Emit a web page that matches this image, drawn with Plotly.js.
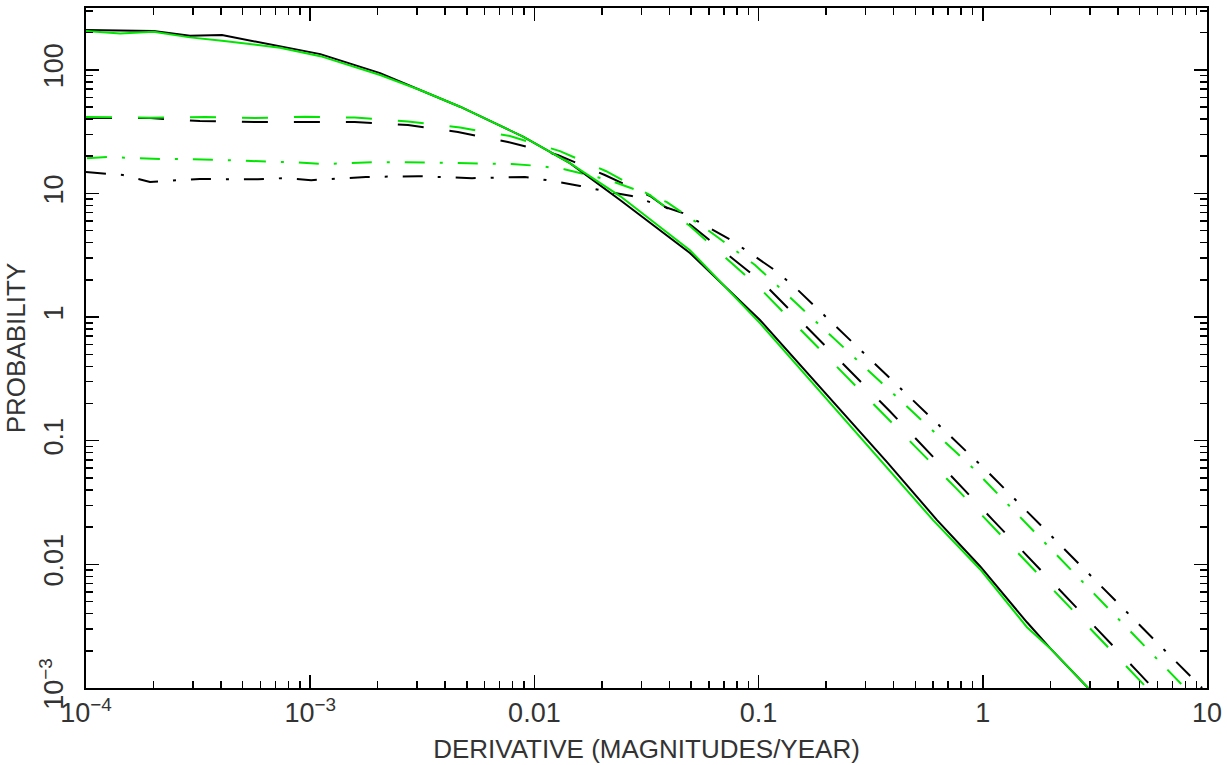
<!DOCTYPE html>
<html>
<head>
<meta charset="utf-8">
<script src="https://cdn.plot.ly/plotly-3.0.1.min.js"></script>
<style>html,body{margin:0;padding:0;background:#fff;}#chart{width:1227px;height:765px;}</style>
</head>
<body>
<div id="chart"></div>
<script>
// Black solid
const blackSolidX = [1.0e-4, 1.42e-4, 2.0e-4, 2.91e-4, 4.04e-4, 1.11e-3, 2.05e-3, 3.09e-3, 4.66e-3, 8.9e-3, 0.0114, 0.0144, 0.0241, 0.0494, 0.1014, 0.374, 0.625, 0.972, 1.574, 1.995, 2.95];
const blackSolidY = [210, 208, 206, 189, 191, 134, 94, 68.7, 50.3, 28.8, 22.4, 17.6, 8.85, 3.30, 0.946, 0.0671, 0.0228, 0.00966, 0.0034, 0.0021, 0.001];
// Green solid
const greenSolidX = [1.0e-4, 1.42e-4, 2.0e-4, 2.91e-4, 4.04e-4, 7.33e-4, 1.11e-3, 2.05e-3, 3.09e-3, 4.66e-3, 8.9e-3, 0.0144, 0.0241, 0.0494, 0.1014, 0.374, 0.60, 0.972, 1.574, 1.995, 2.95];
const greenSolidY = [206, 197, 203, 183, 172, 151, 129, 90.8, 68.7, 50.3, 28.8, 17.6, 9.53, 3.48, 0.894, 0.0611, 0.0228, 0.00914, 0.0031, 0.0021, 0.001];
// Black dashed
const blackDashX = [1.0e-4, 1.93e-4, 3.22e-4, 5.68e-4, 9.49e-4, 1.58e-3, 2.73e-3, 4.56e-3, 7.62e-3, 0.0127, 0.0206, 0.0328, 0.0505, 0.105, 0.385, 1.11, 4.88, 5.74];
const blackDashY = [40.7, 40.7, 38.5, 37.8, 37.8, 37.8, 35.7, 31.4, 26.1, 20.5, 14.1, 9.53, 5.45, 1.88, 0.173, 0.0228, 0.00137, 0.001];
// Green dashed
const greenDashX = [1.0e-4, 1.93e-4, 3.40e-4, 5.68e-4, 9.49e-4, 1.58e-3, 2.73e-3, 4.66e-3, 7.78e-3, 0.0130, 0.0208, 0.0328, 0.0494, 0.101, 0.767, 4.68, 5.40];
const greenDashY = [41.5, 41.0, 41.5, 40.7, 41.8, 41.1, 38.2, 34.1, 29.1, 22.0, 15.2, 9.7, 5.45, 1.72, 0.0406, 0.0013, 0.001];
// Black dash-dot
const blackDotX = [1.0e-4, 1.46e-4, 1.93e-4, 3.22e-4, 5.85e-4, 7.63e-4, 1.01e-3, 1.77e-3, 3.03e-3, 5.27e-3, 9.08e-3, 0.0121, 0.0160, 0.0213, 0.0272, 0.046, 0.0753, 0.118, 0.145, 1.066, 9.51];
const blackDotY = [14.9, 14.1, 12.4, 13.1, 13.0, 13.3, 12.8, 13.6, 13.8, 13.3, 13.6, 12.6, 11.5, 10.3, 9.53, 6.94, 4.20, 2.40, 1.75, 0.0547, 0.001];
// Green dash-dot
const greenDotX = [1.01e-4, 1.25e-4, 1.66e-4, 2.18e-4, 2.85e-4, 5.01e-4, 8.73e-4, 1.14e-3, 1.51e-3, 1.99e-3, 2.62e-3, 4.56e-3, 7.94e-3, 0.0104, 0.0136, 0.0173, 0.0213, 0.0296, 0.039, 0.0619, 0.0964, 0.118, 0.895, 7.98];
const greenDotY = [19.3, 19.7, 19.3, 19.0, 19.0, 18.5, 17.8, 17.3, 17.6, 17.9, 17.9, 17.6, 17.3, 16.7, 15.7, 14.1, 12.9, 10.4, 8.51, 4.79, 2.64, 1.88, 0.0611, 0.001];

const xTickVals = [1e-4, 1e-3, 0.01, 0.1, 1, 10];
const xTickText = ['10<sup>−4</sup>', '10<sup>−3</sup>', '0.01', '0.1', '1', '10'];
const yTickVals = [1e-3, 0.01, 0.1, 1, 10, 100];
const yTickText = ['10<sup>−3</sup>', '0.01', '0.1', '1', '10', '100'];

function minorVals(lo, hi) {
  const out = [];
  for (let e = lo; e <= hi; e++) for (let d = 2; d <= 9; d++) out.push(d * Math.pow(10, e));
  return out;
}

const GREEN = '#00e600';
const traces = [
  {x: blackDashX, y: blackDashY, line: {color: '#000', width: 2, dash: '26px,26px'}},
  {x: greenDashX, y: greenDashY, line: {color: GREEN, width: 2, dash: '26px,26px'}},
  {x: blackDotX, y: blackDotY, line: {color: '#000', width: 2, dash: '20px,15px,3px,15px'}},
  {x: greenDotX, y: greenDotY, line: {color: GREEN, width: 2, dash: '20px,15px,3px,15px'}},
  {x: blackSolidX, y: blackSolidY, line: {color: '#000', width: 2}},
  {x: greenSolidX, y: greenSolidY, line: {color: GREEN, width: 2}}
].map(t => Object.assign({type: 'scatter', mode: 'lines', showlegend: false, hoverinfo: 'none'}, t));

const FAMILY = 'Liberation Sans, Arial, sans-serif';
const tickFont = {family: FAMILY, size: 27, color: '#333'};
const layout = {
  width: 1227, height: 765,
  paper_bgcolor: '#fff', plot_bgcolor: '#fff',
  margin: {l: 86, r: 20, t: 8, b: 77},
  showlegend: false,
  xaxis: {
    type: 'log', range: [-4, 1],
    showgrid: false, zeroline: false,
    showline: true, linecolor: '#000', linewidth: 2, mirror: 'ticks',
    ticks: 'inside', ticklen: 13, tickwidth: 1.5, tickcolor: '#000',
    tickmode: 'array', tickvals: xTickVals, ticktext: xTickText,
    tickfont: tickFont, ticklabelstandoff: 0,
    minor: {tickmode: 'array', tickvals: minorVals(-4, 0), ticks: 'inside', ticklen: 7, tickwidth: 1.5, tickcolor: '#000', showgrid: false},
    title: {text: 'DERIVATIVE (MAGNITUDES/YEAR)', font: {family: FAMILY, size: 26, color: '#333'}, standoff: 12}
  },
  yaxis: {
    type: 'log', range: [-3, 2.5],
    showgrid: false, zeroline: false,
    showline: true, linecolor: '#000', linewidth: 2, mirror: 'ticks',
    ticks: 'inside', ticklen: 13, tickwidth: 1.5, tickcolor: '#000',
    tickmode: 'array', tickvals: yTickVals, ticktext: yTickText,
    tickangle: -90,
    tickfont: tickFont, ticklabelstandoff: 10,
    minor: {tickmode: 'array', tickvals: minorVals(-3, 2), ticks: 'inside', ticklen: 7, tickwidth: 1.5, tickcolor: '#000', showgrid: false},
    title: {text: 'PROBABILITY', font: {family: FAMILY, size: 26, color: '#333'}, standoff: 2}
  }
};

Plotly.newPlot('chart', traces, layout, {displayModeBar: false, staticPlot: true});
</script>
</body>
</html>
